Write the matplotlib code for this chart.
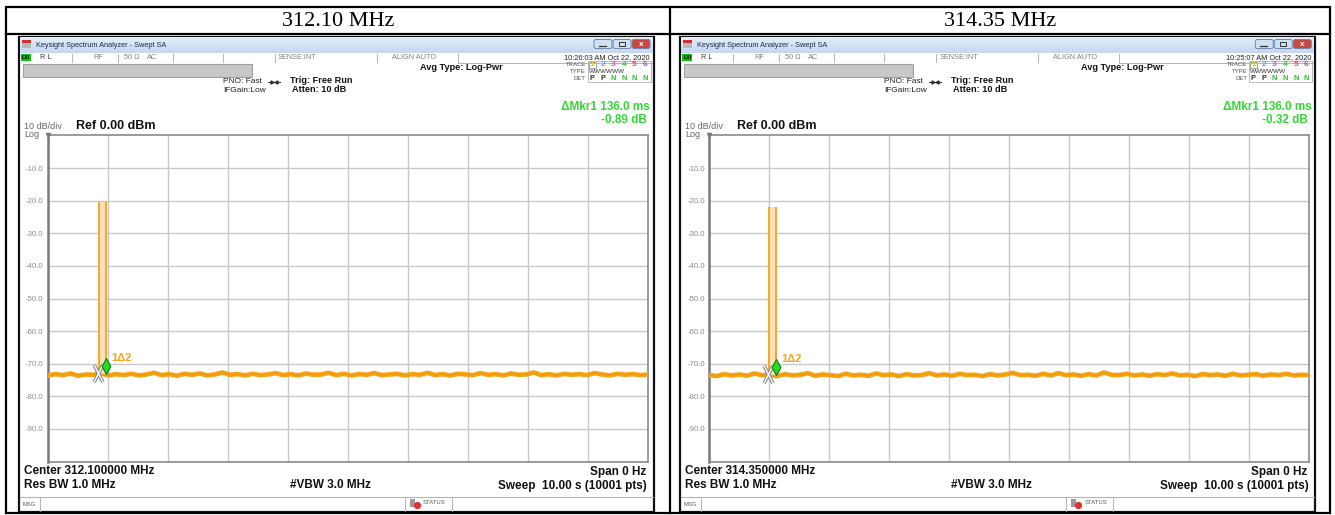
import numpy as np
import matplotlib
matplotlib.use('Agg')
import matplotlib.pyplot as plt
from matplotlib.patches import Rectangle, FancyBboxPatch
from matplotlib.path import Path
from matplotlib.colors import LinearSegmentedColormap

plt.rcParams['font.family'] = ['Liberation Sans', 'DejaVu Sans']

# ---------------- data ----------------
panel_titles = ['312.10 MHz', '314.35 MHz']
center_labels = ['Center 312.100000 MHz', 'Center 314.350000 MHz']
timestamps = ['10:26:03 AM Oct 22, 2020', '10:25:07 AM Oct 22, 2020']
mkr_time = ['ΔMkr1 136.0 ms', 'ΔMkr1 136.0 ms']
mkr_db = ['-0.89 dB', '-0.32 dB']
ref_level = 0.0
db_per_div = 10
sweep_time = 10.0
y_ticks = [-10, -20, -30, -40, -50, -60, -70, -80, -90]
y_ticklabels = ['-10.0', '-20.0', '-30.0', '-40.0', '-50.0', '-60.0', '-70.0', '-80.0', '-90.0']

# noise floor trace (dBm), read along the sweep
trace_left = [-73.6, -73.2, -73.5, -73.0, -73.7, -73.3, -73.4, -72.9, -73.6, -73.2,
              -73.5, -73.1, -73.6, -73.3, -72.8, -73.5, -73.2, -73.7, -73.1, -73.4,
              -73.0, -73.6, -73.3, -72.7, -73.4, -73.2, -73.6, -73.1, -73.5, -73.3,
              -72.9, -73.5, -73.2, -73.6, -73.0, -73.4, -73.3, -72.8, -73.5, -73.1,
              -73.6, -73.2, -73.4, -72.9, -73.5, -73.3, -73.1, -73.6, -73.2, -73.4,
              -72.8, -73.5, -73.2, -73.6, -73.1, -73.3, -73.5, -72.9, -73.4, -73.2,
              -73.6, -73.0, -73.4, -73.3, -72.7, -73.5, -73.2, -73.6, -73.1, -73.4,
              -73.2, -73.5, -72.9, -73.3, -73.6, -73.1, -73.4, -73.2, -73.5, -73.3]
trace_right = [-73.5, -73.8, -73.2, -73.6, -73.3, -73.7, -73.0, -73.5, -73.4, -73.8,
               -73.2, -73.6, -73.4, -72.9, -73.7, -73.3, -73.5, -73.8, -73.1, -73.6,
               -73.4, -73.7, -73.0, -73.5, -73.3, -73.8, -73.2, -73.6, -73.5, -72.9,
               -73.6, -73.3, -73.7, -73.1, -73.5, -73.4, -73.8, -73.2, -73.6, -73.3,
               -72.8, -73.5, -73.4, -73.7, -73.1, -73.6, -72.9, -73.5, -73.3, -73.7,
               -73.2, -73.6, -72.7, -73.4, -73.5, -73.1, -73.6, -73.3, -73.7, -73.2,
               -73.5, -73.0, -73.6, -73.4, -73.8, -73.2, -73.5, -73.3, -73.7, -73.1,
               -73.6, -73.4, -73.2, -73.7, -73.3, -73.5, -73.1, -73.6, -73.4, -73.5]
traces = [trace_left, trace_right]

pulse_start = [0.83, 0.975]     # s
pulse_end = [0.975, 1.118]      # s
pulse_top = [-20.5, -22.0]      # dBm
marker2_t = [0.835, 0.978]      # s
marker1_t = [0.971, 1.114]      # s
marker_level = [-73.3, -73.5]   # dBm

# ---------------- figure ----------------
W, H = 1335, 515
fig = plt.figure(figsize=(W / 100, H / 100), dpi=100)
bg = fig.add_axes([0, 0, 1, 1])
bg.set_xlim(0, W)
bg.set_ylim(H, 0)
bg.axis('off')

TRACE_C = '#F5A41C'
PULSE_FILL = '#FCE3B6'
GREEN_TXT = '#34D834'
GRID_C = '#C9C9C9'

title_cmap = LinearSegmentedColormap.from_list('tb', ['#E4EEFA', '#C6D8EF'])


def T(x, y, s, size=6, **kw):
    kw.setdefault('va', 'center')
    kw.setdefault('ha', 'left')
    bg.text(x, y, s, fontsize=size, **kw)


def draw_chrome(i, dx):
    # screenshot frame
    bg.add_patch(Rectangle((19 + dx, 37), 635, 475, facecolor='white', edgecolor='#111111', lw=1.6, zorder=1))
    # title bar
    bg.imshow(np.linspace(0, 1, 16).reshape(-1, 1), extent=(20 + dx, 653 + dx, 53, 37.8),
              cmap=title_cmap, aspect='auto', zorder=2)
    bg.add_patch(Rectangle((22 + dx, 40), 9, 8, facecolor='#B8B8B8', edgecolor='none', zorder=3))
    bg.add_patch(Rectangle((22 + dx, 40), 9, 3, facecolor='#D03030', edgecolor='none', zorder=3))
    T(36 + dx, 45.5, 'Keysight Spectrum Analyzer - Swept SA', 5.3, color='#1E2C48', zorder=4)
    for k, (x0, fc) in enumerate([(594, '#CFE0F3'), (613, '#CFE0F3'), (632, '#C9473E')]):
        bg.add_patch(FancyBboxPatch((x0 + dx, 39.5), 18, 9, boxstyle='round,pad=0,rounding_size=2',
                                    facecolor=fc, edgecolor='#6F88AC', lw=0.7, zorder=3))
    bg.plot([599 + dx, 606 + dx], [46, 46], color='#333333', lw=0.9, zorder=4)
    bg.add_patch(Rectangle((618.5 + dx, 41.8), 6, 4.5, facecolor='none', edgecolor='#333333', lw=0.7, zorder=4))
    T(641 + dx, 44.2, 'x', 6, ha='center', color='white', fontweight='bold', zorder=4)

    # status row
    bg.add_patch(Rectangle((21 + dx, 54), 10, 7, facecolor='#10C010', edgecolor='none', zorder=3))
    T(26 + dx, 57.7, 'LXI', 3.6, ha='center', color='black', fontweight='bold', zorder=4)
    T(40 + dx, 57.7, 'R L', 5.3, color='#404040')
    T(93 + dx, 57.7, 'RF', 5.3, color='#808080')
    T(124 + dx, 57.7, '50 Ω', 5.3, color='#808080')
    T(147 + dx, 57.7, 'AC', 5.3, color='#808080')
    T(278 + dx, 57.7, 'SENSE:INT', 5.3, color='#808080')
    T(392 + dx, 57.7, 'ALIGN AUTO', 5.3, color='#808080')
    T(650 + dx, 57.7, timestamps[i], 5.3, ha='right', color='#202020')
    for sx in [72, 118, 173, 223, 275, 377, 458]:
        bg.plot([sx + dx, sx + dx], [54, 62], color='#B5B5B5', lw=0.7)
    bg.plot([458 + dx, 652 + dx], [62.5, 62.5], color='#B5B5B5', lw=0.7)

    # grey bar
    bg.add_patch(Rectangle((23 + dx, 63.5), 229, 13.5, facecolor='#C8C8C8', edgecolor='#A0A0A0', lw=0.8))

    # settings
    T(223 + dx, 81.7, 'PNO: Fast', 6, color='#202020')
    T(223 + dx, 90.8, 'IFGain:Low', 6, color='#202020')
    bg.plot([268 + dx, 280 + dx], [81.5, 81.5], color='#303030', lw=0.7)
    bg.plot([272 + dx], [81.5], marker='>', ms=2.2, color='#303030')
    bg.plot([276 + dx], [81.5], marker='<', ms=2.2, color='#303030')
    T(290 + dx, 80.5, 'Trig: Free Run', 6.6, color='#111111', fontweight='bold')
    T(292 + dx, 89.5, 'Atten: 10 dB', 6.6, color='#111111', fontweight='bold')
    T(420 + dx, 67.5, 'Avg Type: Log-Pwr', 6.6, color='#111111', fontweight='bold')

    # trace info block
    T(586 + dx, 64.5, 'TRACE', 4.3, ha='right', color='#555555')
    T(586 + dx, 71.5, 'TYPE', 4.3, ha='right', color='#555555')
    T(586 + dx, 78.5, 'DET', 4.3, ha='right', color='#555555')
    bg.add_patch(Rectangle((587.5 + dx, 61), 63, 21, facecolor='none', edgecolor='#B0B0B0', lw=0.6))
    tcolors = ['#E6D200', '#38B0F0', '#E040D8', '#38C838', '#F04060', '#A050F0']
    for k, c in enumerate(tcolors):
        T(592 + dx + k * 10.6, 64.7, str(k + 1), 6, ha='center', color=c, fontweight='bold')
    bg.add_patch(Rectangle((588.5 + dx, 61.5), 7, 6.6, facecolor='none', edgecolor='#808080', lw=0.5))
    T(589 + dx, 71.6, 'WWWWWW', 4.6, color='#303030')
    dets = ['P', 'P', 'N', 'N', 'N', 'N']
    for k, d in enumerate(dets):
        T(592 + dx + k * 10.6, 78.6, d, 5.3, ha='center', color='#303030' if d == 'P' else '#30C030',
          fontweight='bold')

    # marker readout
    T(650 + dx, 107.5, mkr_time[i], 8.5, ha='right', color=GREEN_TXT, fontweight='bold')
    T(647 + dx, 120.3, mkr_db[i], 8.5, ha='right', color=GREEN_TXT, fontweight='bold')

    # scale
    T(24 + dx, 126.5, '%d dB/div' % db_per_div, 6.5, color='#666666')
    T(24 + dx, 134.6, 'Log', 6.5, color='#666666')
    T(76 + dx, 125.8, 'Ref %.2f dBm' % ref_level, 9, color='#111111', fontweight='bold')

    # bottom annotations
    T(24 + dx, 471.5, center_labels[i], 8.5, color='#111111', fontweight='bold')
    T(24 + dx, 485.5, 'Res BW 1.0 MHz', 8.5, color='#111111', fontweight='bold')
    T(290 + dx, 485.5, '#VBW 3.0 MHz', 8.5, color='#111111', fontweight='bold')
    T(646 + dx, 471.5, 'Span 0 Hz', 8.5, ha='right', color='#111111', fontweight='bold')
    T(647 + dx, 485.5, 'Sweep  %.2f s (10001 pts)' % sweep_time, 8.5, ha='right',
      color='#111111', fontweight='bold')

    # message bar
    bg.plot([20 + dx, 653 + dx], [496.8, 496.8], color='#B5B5B5', lw=0.8)
    bg.plot([40 + dx, 40 + dx], [497, 511], color='#B5B5B5', lw=0.7)
    bg.plot([405 + dx, 405 + dx], [497, 511], color='#B5B5B5', lw=0.7)
    bg.plot([452 + dx, 452 + dx], [497, 511], color='#B5B5B5', lw=0.7)
    T(22.5 + dx, 504.5, 'MSG', 4.2, color='#555555')
    bg.add_patch(Rectangle((410 + dx, 498.5), 5, 8, facecolor='#9A9A9A', edgecolor='none'))
    bg.plot([417 + dx], [505], marker='o', ms=4.2, mfc='#E03030', mec='#E03030')
    T(423 + dx, 502, 'STATUS', 4.2, color='#555555')


# ---------------- table ----------------
bg.add_patch(Rectangle((5.5, 6.7), 1324.5, 505.8, facecolor='none', edgecolor='black', lw=1.6, zorder=10))
bg.plot([5.5, 1330], [34.4, 34.4], color='black', lw=1.6, zorder=10)
bg.plot([670, 670], [6.7, 512.5], color='black', lw=1.6, zorder=10)
for x, s in zip([337.8, 1000], panel_titles):
    bg.text(x, 21.5, s, fontsize=16, ha='center', va='center', family='Liberation Serif', color='black')

offsets = [0.0, 661.3]
for i, dx in enumerate(offsets):
    draw_chrome(i, dx)

bg.set_xlim(0, W)
bg.set_ylim(H, 0)

# ---------------- plot areas ----------------
cross = Path([(-0.5, -1), (0.5, 1), (-0.5, 1), (0.5, -1)],
             [Path.MOVETO, Path.LINETO, Path.MOVETO, Path.LINETO])
diamond = Path([(0, 0), (0.55, 1), (0, 2), (-0.55, 1), (0, 0)],
               [Path.MOVETO, Path.LINETO, Path.LINETO, Path.LINETO, Path.CLOSEPOLY])

x0_px, x1_px = 47.7, 647.7
y0_px, y1_px = 135.5, 461.5
for i, dx in enumerate(offsets):
    ax = fig.add_axes([(x0_px + dx) / W, 1 - y1_px / H, (x1_px - x0_px) / W, (y1_px - y0_px) / H])
    ax.set_xlim(0, sweep_time)
    ax.set_ylim(ref_level - 10 * db_per_div, ref_level)
    ax.set_xticks(np.arange(1, 10))
    ax.set_yticks(y_ticks)
    ax.set_yticklabels(y_ticklabels)
    ax.tick_params(axis='y', length=0, pad=3, labelsize=5.6, labelcolor='#8C8C8C')
    ax.tick_params(axis='x', length=0, labelbottom=False)
    ax.grid(True, color=GRID_C, lw=1.0)
    ax.set_axisbelow(True)
    for side, sp in ax.spines.items():
        sp.set_color('#8A8A8A')
        sp.set_linewidth(1.2)
    ax.spines['left'].set_linewidth(1.8)
    ax.spines['left'].set_color('#7A7A7A')

    tr = traces[i]
    t = np.linspace(0, sweep_time, len(tr))
    ax.plot(t, tr, color=TRACE_C, lw=3.4, solid_joinstyle='miter', zorder=3)
    ax.plot(t, tr, color='#F09A00', lw=0.9, zorder=3)

    # burst
    ax.fill_between([pulse_start[i], pulse_end[i]], marker_level[i], pulse_top[i],
                    color=PULSE_FILL, lw=0, zorder=4)
    for px in [pulse_start[i], pulse_start[i] + 0.018, pulse_end[i] - 0.018, pulse_end[i]]:
        ax.plot([px, px], [marker_level[i], pulse_top[i]], color='#F2A83A', lw=0.8, zorder=5)

    # markers
    ax.plot([marker2_t[i]], [marker_level[i] + 0.3], marker=cross, ms=12.5, mec='#8A8A8A', mew=2.6,
            ls='none', zorder=6)
    ax.plot([marker2_t[i]], [marker_level[i] + 0.3], marker=cross, ms=12.5, mec='#FFFFFF', mew=1.0,
            ls='none', zorder=7)
    ax.plot([marker1_t[i]], [marker_level[i]], marker=diamond, ms=23, mfc='#22DD22', mec='#127A12',
            mew=0.8, ls='none', zorder=8)
    ax.text(marker1_t[i] + 0.09, marker_level[i] + 5.0, '1Δ2', fontsize=8, color='#F5A41C',
            fontweight='bold', va='center', ha='left', zorder=8)
    # small 'Log' arrow at the corner
    ax.plot([0], [ref_level], marker='v', ms=3, color='#7A7A7A', clip_on=False, zorder=9)

fig.savefig('out.png', dpi=100)
